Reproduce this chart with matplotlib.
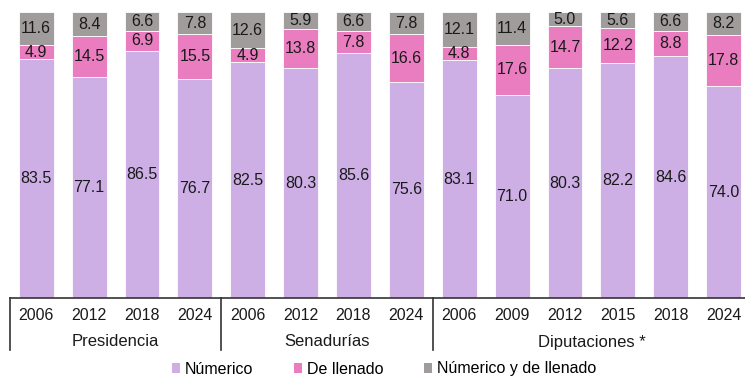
import matplotlib.pyplot as plt
from matplotlib.patches import Patch

plt.rcParams['font.family'] = ['Liberation Sans', 'DejaVu Sans']

groups = ["Presidencia", "Senadurías", "Diputaciones *"]
years = [
    ["2006", "2012", "2018", "2024"],
    ["2006", "2012", "2018", "2024"],
    ["2006", "2009", "2012", "2015", "2018", "2024"],
]
numerico = [83.5, 77.1, 86.5, 76.7, 82.5, 80.3, 85.6, 75.6,
            83.1, 71.0, 80.3, 82.2, 84.6, 74.0]
llenado = [4.9, 14.5, 6.9, 15.5, 4.9, 13.8, 7.8, 16.6,
           4.8, 17.6, 14.7, 12.2, 8.8, 17.8]
ambos = [11.6, 8.4, 6.6, 7.8, 12.6, 5.9, 6.6, 7.8,
         12.1, 11.4, 5.0, 5.6, 6.6, 8.2]
series_names = ["Númerico", "De llenado", "Númerico y de llenado"]
colors = ["#CDAFE6", "#E97DC0", "#A09C9C"]

W, H = 745, 377
fig = plt.figure(figsize=(W / 100, H / 100), dpi=100)
# axes runs a little past the right edge, so the last bar is cut off
ax = fig.add_axes([9.8 / W, 79 / H, (750 - 9.8) / W, 286 / H])

x = list(range(len(numerico)))
bottom = [0.0] * len(x)
for vals, col in zip([numerico, llenado, ambos], colors):
    ax.bar(x, vals, bottom=bottom, width=0.66, color=col,
           edgecolor="white", linewidth=0.6)
    for xi, b, v in zip(x, bottom, vals):
        ax.text(xi, b + v / 2, f"{v:.1f}", ha="center", va="center",
                fontsize=11.5, color="#1a1a1a")
    bottom = [b + v for b, v in zip(bottom, vals)]

ax.set_xlim(-0.5, len(x) - 0.5)
ax.set_ylim(0, 100)
ax.axis("off")
ax.axhline(0, color="#333333", linewidth=1.2, clip_on=False)

px = 100 / 286  # data units per pixel

# year labels, group labels and separators under the axis
start = 0
edges = [-0.5]
for g, ys in zip(groups, years):
    for i, y in enumerate(ys):
        ax.text(start + i, -17 * px, y, ha="center", va="center",
                fontsize=11.5, color="#1a1a1a")
    ax.text(start + (len(ys) - 1) / 2, -44 * px, g, ha="center",
            va="center", fontsize=12, color="#1a1a1a")
    start += len(ys)
    edges.append(start - 0.5)

for e in edges[:-1]:
    ax.plot([e, e], [0, -52 * px], color="#333333", linewidth=1.2,
            clip_on=False)

handles = [Patch(facecolor=c, edgecolor="none") for c in colors]
fig.legend(handles, series_names, loc="center", ncol=3,
           bbox_to_anchor=(384 / W, 1 - 369 / H), frameon=False,
           fontsize=11.5, handlelength=0.55, handleheight=0.55,
           handletextpad=0.3, columnspacing=2.5, borderpad=0.1)

fig.savefig("out.png", dpi=100)
